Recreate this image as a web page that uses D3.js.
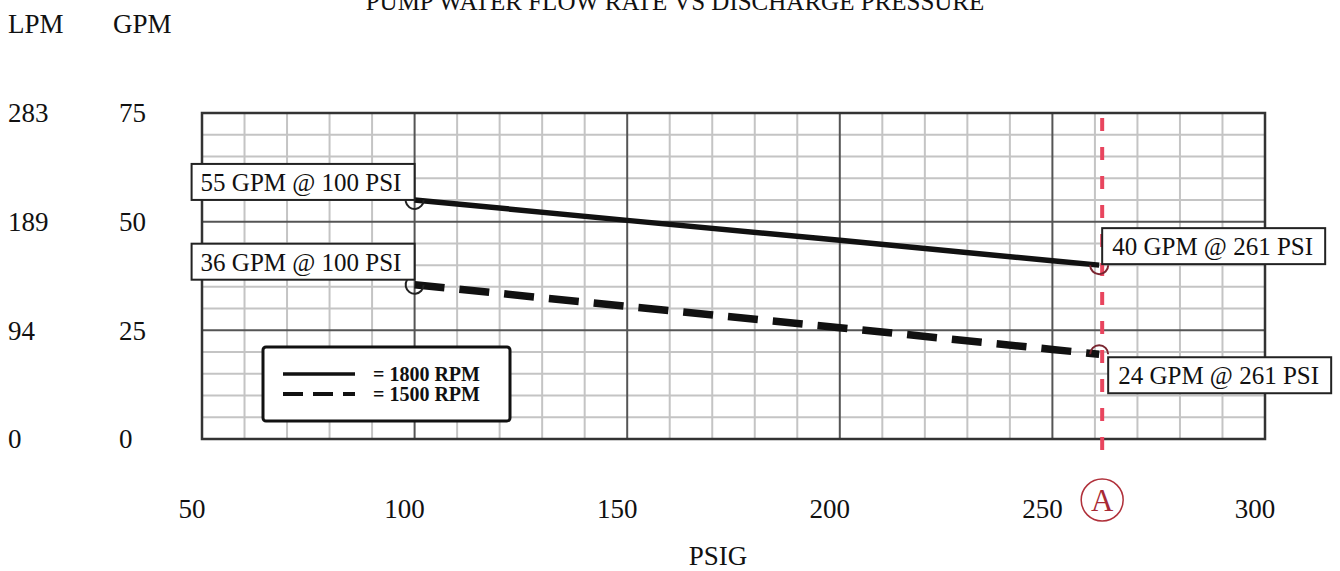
<!DOCTYPE html>
<meta charset="utf-8">
<style>
body { margin: 0; background: #fff; }
text { font-family: "Liberation Serif", "Times New Roman", serif; fill: #111; }
.minor line { stroke: #c4c4c4; stroke-width: 2px; }
.major line { stroke: #555; stroke-width: 2px; }
</style>
<svg width="1340" height="571"></svg>
<script src="https://d3js.org/d3.v7.min.js"></script>
<script>

// values
var gpmTicks = [75, 50, 25, 0];
var lpmTicks = [283, 189, 94, 0];
var psiTicks = [50, 100, 150, 200, 250, 300];

var psi = [100, 150, 200, 250, 261];
var rpm1800 = [55, 50.3, 45.7, 41.0, 40];
var rpm1500 = [35.5, 30.5, 25.6, 20.6, 19.5];

var callouts = [
  {text: "55 GPM @ 100 PSI", psi: 100, gpm: 55, side: "left", dy: -36},
  {text: "36 GPM @ 100 PSI", psi: 100, gpm: 35.5, side: "left", dy: -41},
  {text: "40 GPM @ 261 PSI", psi: 261, gpm: 40, side: "right", dy: -37},
  {text: "24 GPM @ 261 PSI", psi: 261, gpm: 19.5, side: "right", dy: 3}
];

var markPsi = 261;

var svg = d3.select("svg");

var x = d3.scaleLinear().domain([50, 300]).range([202, 1265]);
var y = d3.scaleLinear().domain([0, 75]).range([439, 113]);

// grid
var minor = svg.append("g").attr("class", "minor");
minor.selectAll(".v").data(d3.range(60, 300, 10).filter(function(d) { return d % 50 != 0; }))
  .enter().append("line")
  .attr("x1", function(d) { return x(d); }).attr("x2", function(d) { return x(d); })
  .attr("y1", y(75)).attr("y2", y(0));
minor.selectAll(".h").data(d3.range(5, 75, 5).filter(function(d) { return d % 25 != 0; }))
  .enter().append("line")
  .attr("x1", x(50)).attr("x2", x(300))
  .attr("y1", function(d) { return y(d); }).attr("y2", function(d) { return y(d); });

var major = svg.append("g").attr("class", "major");
major.selectAll(".v").data([100, 150, 200, 250]).enter().append("line")
  .attr("x1", function(d) { return x(d); }).attr("x2", function(d) { return x(d); })
  .attr("y1", y(75)).attr("y2", y(0));
major.selectAll(".h").data([25, 50]).enter().append("line")
  .attr("x1", x(50)).attr("x2", x(300))
  .attr("y1", function(d) { return y(d); }).attr("y2", function(d) { return y(d); });

svg.append("rect")
  .attr("x", x(50)).attr("y", y(75))
  .attr("width", x(300) - x(50)).attr("height", y(0) - y(75))
  .attr("fill", "none").attr("stroke", "#333").attr("stroke-width", 2.5);

// title and headers (title sits half off the top edge, like the scan)
svg.append("text").attr("x", 675).attr("y", 10).attr("text-anchor", "middle")
  .style("font-size", "25px").text("PUMP WATER FLOW RATE VS DISCHARGE PRESSURE");
svg.append("text").attr("x", 8).attr("y", 33).style("font-size", "27px").text("LPM");
svg.append("text").attr("x", 113).attr("y", 33).style("font-size", "27px").text("GPM");

// left labels
svg.selectAll(".lpm").data(lpmTicks).enter().append("text")
  .attr("x", 8).attr("y", function(d, i) { return y(gpmTicks[i]); }).attr("dy", "0.35em")
  .style("font-size", "27px").text(function(d) { return d; });
svg.selectAll(".gpm").data(gpmTicks).enter().append("text")
  .attr("x", 119).attr("y", function(d) { return y(d); }).attr("dy", "0.35em")
  .style("font-size", "27px").text(function(d) { return d; });

// bottom axis labels
svg.selectAll(".psi").data(psiTicks).enter().append("text")
  .attr("x", function(d) { return x(d) - 10; }).attr("y", 509).attr("dy", "0.35em")
  .attr("text-anchor", "middle").style("font-size", "27px").text(function(d) { return d; });
svg.append("text").attr("x", 718).attr("y", 556).attr("dy", "0.35em")
  .attr("text-anchor", "middle").style("font-size", "27px").text("PSIG");

// red marker line
svg.append("line")
  .attr("x1", x(markPsi) + 3).attr("x2", x(markPsi) + 3).attr("y1", 118).attr("y2", 462)
  .attr("stroke", "#e8455e").attr("stroke-width", 4).attr("stroke-dasharray", "13,16");
svg.append("circle").attr("cx", x(markPsi) + 3).attr("cy", 500).attr("r", 21)
  .attr("fill", "#fff").attr("stroke", "#b0303a").attr("stroke-width", 1.5);
svg.append("text").attr("x", x(markPsi) + 3).attr("y", 500).attr("dy", "0.36em")
  .attr("text-anchor", "middle").style("font-size", "31px").style("fill", "#a82a35").text("A");

// curves
var line = d3.line()
  .x(function(d, i) { return x(psi[i]); })
  .y(function(d) { return y(d); });

svg.append("path").datum(rpm1800).attr("d", line)
  .attr("fill", "none").attr("stroke", "#111").attr("stroke-width", 5.5);
svg.append("path").datum(rpm1500).attr("d", line)
  .attr("fill", "none").attr("stroke", "#111").attr("stroke-width", 7.5)
  .attr("stroke-dasharray", "30,15");

// point markers
svg.selectAll(".pm").data(callouts).enter().append("path")
  .attr("transform", function(d) { return "translate(" + x(d.psi) + "," + y(d.gpm) + ")"; })
  .attr("d", function(d) {
    var arc = d3.arc().innerRadius(9).outerRadius(9);
    if (d.side == "left") return arc({startAngle: Math.PI * 0.5, endAngle: Math.PI * 1.9});
    if (d.gpm > 30) return arc({startAngle: Math.PI * 0.5, endAngle: Math.PI * 1.5});
    return arc({startAngle: -Math.PI * 0.5, endAngle: Math.PI * 0.5});
  })
  .attr("fill", "none")
  .attr("stroke", function(d) { return d.side == "left" ? "#222" : "#7a2530"; })
  .attr("stroke-width", 2);

// callout boxes
var boxes = svg.selectAll(".callout").data(callouts).enter().append("g")
  .attr("transform", function(d) {
    var bx = d.side == "left" ? x(d.psi) - 223 : x(d.psi) + (d.gpm > 30 ? 3 : 9);
    return "translate(" + bx + "," + (y(d.gpm) + d.dy) + ")";
  });
boxes.append("rect")
  .attr("width", 223).attr("height", 36)
  .attr("fill", "#fff").attr("stroke", "#222").attr("stroke-width", 2);
boxes.append("text")
  .attr("x", function(d) { return d.side == "left" ? 9 : 10; }).attr("y", 27)
  .style("font-size", "25px").text(function(d) { return d.text; });

// legend
var legend = svg.append("g").attr("transform", "translate(263,347)");
legend.append("rect").attr("width", 247).attr("height", 74).attr("rx", 3)
  .attr("fill", "#fff").attr("stroke", "#111").attr("stroke-width", 3);
legend.append("line").attr("x1", 20).attr("x2", 92).attr("y1", 27).attr("y2", 27)
  .attr("stroke", "#111").attr("stroke-width", 3.5);
legend.append("line").attr("x1", 20).attr("x2", 92).attr("y1", 47).attr("y2", 47)
  .attr("stroke", "#111").attr("stroke-width", 4).attr("stroke-dasharray", "20,10");
legend.append("text").attr("x", 110).attr("y", 27).attr("dy", "0.35em")
  .style("font-size", "20px").style("font-weight", "bold").text("= 1800 RPM");
legend.append("text").attr("x", 110).attr("y", 47).attr("dy", "0.35em")
  .style("font-size", "20px").style("font-weight", "bold").text("= 1500 RPM");

</script>
